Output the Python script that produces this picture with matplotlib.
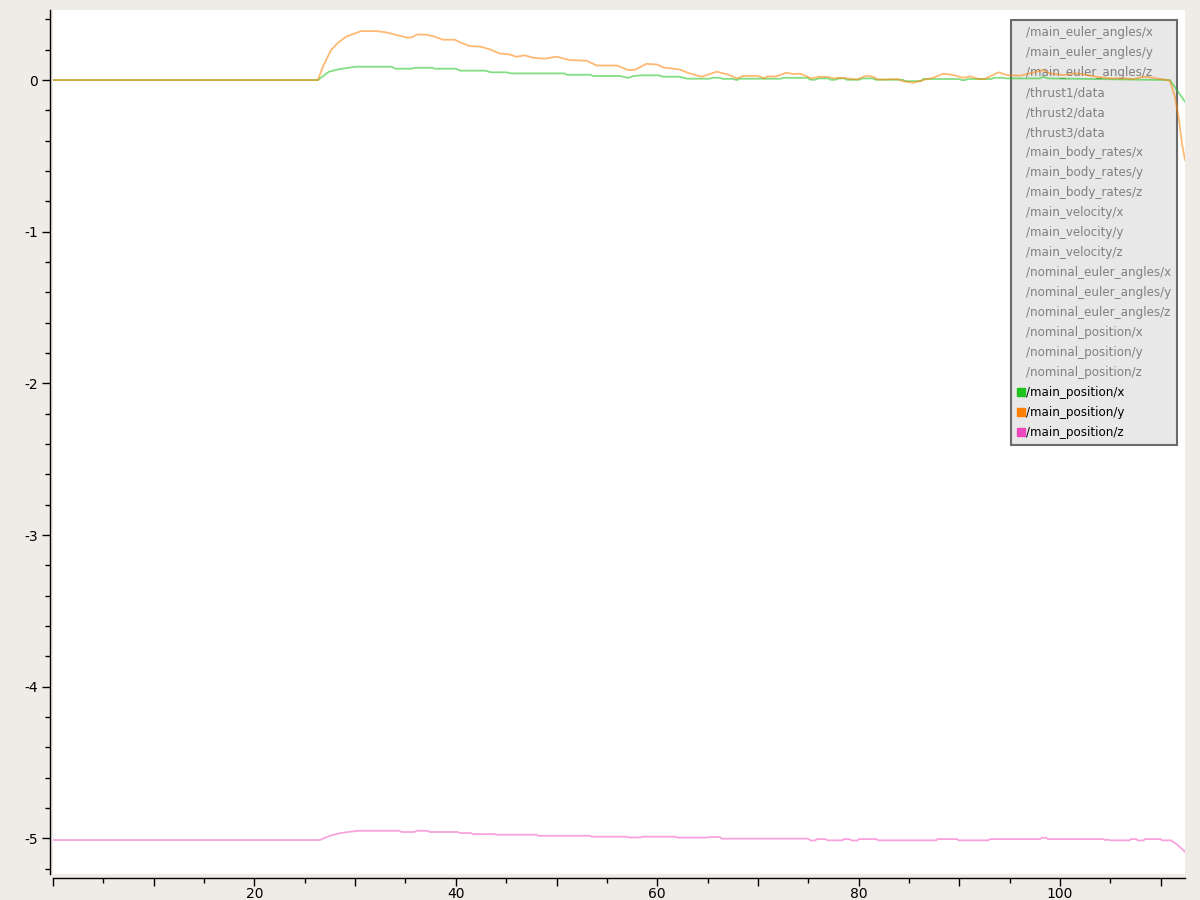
import matplotlib
matplotlib.use("Agg")
import matplotlib.pyplot as plt
from matplotlib.lines import Line2D
from matplotlib.ticker import MultipleLocator, FuncFormatter

plt.rcParams["font.family"] = ["DejaVu Sans"]

# ── 데이터 ──
pos_x_t = [0, 26.3, 27.4, 28.3, 29.3, 30.1, 33.6, 34.0, 35.6, 35.9, 37.7, 37.9, 40.0, 40.4,
           42.9, 43.5, 45.0, 45.5, 50.8, 51.0, 53.4, 53.6, 56.3, 57.1, 57.6, 58.3, 60.2,
           60.6, 62.2, 63.0, 65.2, 65.5, 66.2, 66.5, 67.5, 67.9, 68.2, 72.3, 72.5, 74.9,
           75.2, 75.7, 76.0, 77.0, 77.2, 77.7, 78.0, 78.6, 78.8, 80.0, 80.4, 81.4, 81.7,
           84.4, 84.6, 86.2, 86.4, 90.0, 90.2, 90.6, 90.8, 93.2, 93.4, 94.4, 94.6, 98.0,
           98.3, 98.8, 110.9, 112.4]
pos_x_v = [0, 0, 0.055, 0.07, 0.081, 0.088, 0.088, 0.075, 0.075, 0.081, 0.081, 0.075, 0.075,
           0.062, 0.062, 0.051, 0.051, 0.044, 0.044, 0.035, 0.035, 0.027, 0.027, 0.014,
           0.026, 0.031, 0.031, 0.022, 0.022, 0.009, 0.009, 0.015, 0.015, 0.008, 0.008, 0.0,
           0.009, 0.009, 0.015, 0.015, 0.002, 0.002, 0.011, 0.011, 0.002, 0.002, 0.011,
           0.011, 0.002, 0.002, 0.011, 0.011, 0.002, 0.002, -0.007, -0.007, 0.007, 0.007,
           0.0, 0.0, 0.007, 0.007, 0.015, 0.015, 0.011, 0.011, 0.022, 0.011, 0.0, -0.143]

pos_y_t = [0, 26.3, 26.8, 27.6, 28.3, 29.1, 30.6, 32.1, 33.1, 33.9, 35.1, 35.6, 36.2, 37.1,
           37.9, 38.7, 39.9, 40.5, 41.4, 42.5, 43.4, 44.3, 45.3, 46.0, 46.8, 47.7, 48.8,
           50.0, 51.3, 53.0, 54.0, 56.0, 57.1, 57.8, 58.9, 60.0, 60.6, 62.2, 63.2, 64.4,
           65.9, 67.0, 67.9, 68.5, 69.9, 70.7, 70.9, 71.8, 72.8, 73.5, 74.2, 75.3, 76.1,
           77.0, 77.5, 78.1, 78.9, 79.8, 80.8, 81.4, 81.9, 82.6, 83.8, 84.4, 85.4, 86.4,
           87.4, 88.4, 89.4, 90.4, 91.1, 91.9, 92.5, 93.9, 94.7, 96.0, 97.0, 98.3, 99.0,
           100.3, 101.7, 102.7, 103.6, 105.0, 106.3, 107.3, 108.3, 109.3, 110.6, 110.9,
           111.4, 111.8, 112.1, 112.4]
pos_y_v = [0, 0, 0.088, 0.198, 0.246, 0.286, 0.323, 0.323, 0.314, 0.301, 0.281, 0.281, 0.301,
           0.299, 0.286, 0.266, 0.266, 0.246, 0.224, 0.22, 0.202, 0.176, 0.169, 0.154, 0.163,
           0.147, 0.141, 0.154, 0.132, 0.127, 0.096, 0.096, 0.066, 0.068, 0.107, 0.102,
           0.083, 0.070, 0.044, 0.022, 0.055, 0.037, 0.011, 0.026, 0.028, 0.011, 0.024,
           0.024, 0.048, 0.04, 0.042, 0.011, 0.022, 0.02, 0.011, 0.015, 0.011, 0.004, 0.029,
           0.022, 0.004, 0.004, 0.007, -0.007, -0.018, 0.0, 0.015, 0.042, 0.033, 0.015,
           0.024, 0.007, 0.007, 0.051, 0.033, 0.029, 0.044, 0.066, 0.044, 0.033, 0.044,
           0.033, 0.022, 0.011, 0.011, 0.007, 0.022, 0.015, 0.0, -0.004, -0.11, -0.26,
           -0.42, -0.527]

pos_z_t = [0, 26.5, 27.5, 28.4, 29.3, 30.3, 34.4, 34.6, 35.9, 36.1, 37.2, 37.4, 40.2, 40.4,
           41.5, 41.7, 43.9, 44.0, 48.0, 48.2, 53.3, 53.5, 57.0, 57.2, 58.3, 58.5, 61.8,
           62.0, 65.0, 65.2, 66.2, 66.4, 75.0, 75.2, 75.7, 75.8, 76.7, 76.9, 78.4, 78.5,
           79.1, 79.3, 79.9, 80.0, 81.8, 81.9, 87.7, 87.8, 89.8, 89.9, 92.9, 93.0, 98.0,
           98.2, 98.6, 98.8, 104.3, 104.5, 104.7, 105.0, 106.9, 107.0, 107.6, 107.7, 108.3,
           108.4, 110.0, 110.1, 111.0, 111.6, 112.4]
pos_z_v = [-5.011, -5.011, -4.983, -4.967, -4.958, -4.95, -4.95, -4.958, -4.958, -4.95,
           -4.95, -4.958, -4.958, -4.965, -4.965, -4.972, -4.972, -4.976, -4.976, -4.983,
           -4.983, -4.989, -4.989, -4.994, -4.994, -4.989, -4.989, -4.995, -4.995, -4.991,
           -4.991, -5.002, -5.002, -5.014, -5.014, -5.005, -5.005, -5.013, -5.013, -5.005,
           -5.005, -5.014, -5.014, -5.005, -5.005, -5.013, -5.013, -5.005, -5.005, -5.013,
           -5.013, -5.005, -5.005, -4.996, -4.996, -5.005, -5.005, -5.012, -5.008, -5.013,
           -5.013, -5.005, -5.005, -5.014, -5.014, -5.005, -5.005, -5.013, -5.013, -5.04,
           -5.088]

legend_labels = [
    "/main_euler_angles/x", "/main_euler_angles/y", "/main_euler_angles/z",
    "/thrust1/data", "/thrust2/data", "/thrust3/data",
    "/main_body_rates/x", "/main_body_rates/y", "/main_body_rates/z",
    "/main_velocity/x", "/main_velocity/y", "/main_velocity/z",
    "/nominal_euler_angles/x", "/nominal_euler_angles/y", "/nominal_euler_angles/z",
    "/nominal_position/x", "/nominal_position/y", "/nominal_position/z",
    "/main_position/x", "/main_position/y", "/main_position/z",
]
active = {"/main_position/x": "#1ec41e", "/main_position/y": "#ff8000",
          "/main_position/z": "#f046be"}

# ── 그림 ──
fig = plt.figure(figsize=(12, 9), dpi=100, facecolor="#efebe7")
ax = fig.add_axes([53 / 1200, 1 - 874 / 900, 1132 / 1200, 864 / 900])
ax.set_facecolor("white")

ax.plot(pos_x_t, pos_x_v, color=active["/main_position/x"], alpha=0.55, lw=1.3, zorder=3)
ax.plot(pos_y_t, pos_y_v, color=active["/main_position/y"], alpha=0.55, lw=1.3, zorder=3)
ax.plot(pos_z_t, pos_z_v, color=active["/main_position/z"], alpha=0.5, lw=1.3, zorder=3)

ax.set_xlim(0, 112.4)
ax.set_ylim(-5.235, 0.462)

# 축 스타일
for s in ["top", "right"]:
    ax.spines[s].set_visible(False)
ax.spines["left"].set_position(("outward", 2))
ax.spines["bottom"].set_position(("outward", 3))
for s in ["left", "bottom"]:
    ax.spines[s].set_linewidth(1.0)

ax.xaxis.set_major_locator(MultipleLocator(10))
ax.xaxis.set_minor_locator(MultipleLocator(5))
ax.xaxis.set_major_formatter(FuncFormatter(lambda v, p: f"{int(v)}" if v % 20 == 0 and v > 0 else ""))
ax.yaxis.set_major_locator(MultipleLocator(1))
ax.yaxis.set_minor_locator(MultipleLocator(0.2))
ax.yaxis.set_major_formatter(FuncFormatter(lambda v, p: f"{int(round(v))}"))

ax.tick_params(axis="both", which="major", length=6, width=1, labelsize=10, pad=3)
ax.tick_params(axis="x", which="major", length=5.5, pad=0.8)
ax.tick_params(axis="both", which="minor", length=3.5, width=1)

# 범례
handles = []
for lab in legend_labels:
    if lab in active:
        handles.append(Line2D([], [], linestyle="none", marker="s", markersize=5.5,
                              markerfacecolor=active[lab], markeredgecolor=active[lab]))
    else:
        handles.append(Line2D([], [], linestyle="none"))
leg = ax.legend(handles, legend_labels, loc="upper right", bbox_to_anchor=(0.993, 0.988),
                fontsize=8.6, frameon=True, fancybox=False, framealpha=1,
                facecolor="#e8e8e8", edgecolor="#6a6a6a", handlelength=0.6,
                handletextpad=0.15, labelspacing=0.585, borderpad=0.5, borderaxespad=0)
leg.get_frame().set_linewidth(1.5)
leg.set_zorder(2)
for txt in leg.get_texts():
    txt.set_color("black" if txt.get_text() in active else "#808080")

fig.savefig("out.png", dpi=100, facecolor=fig.get_facecolor())
